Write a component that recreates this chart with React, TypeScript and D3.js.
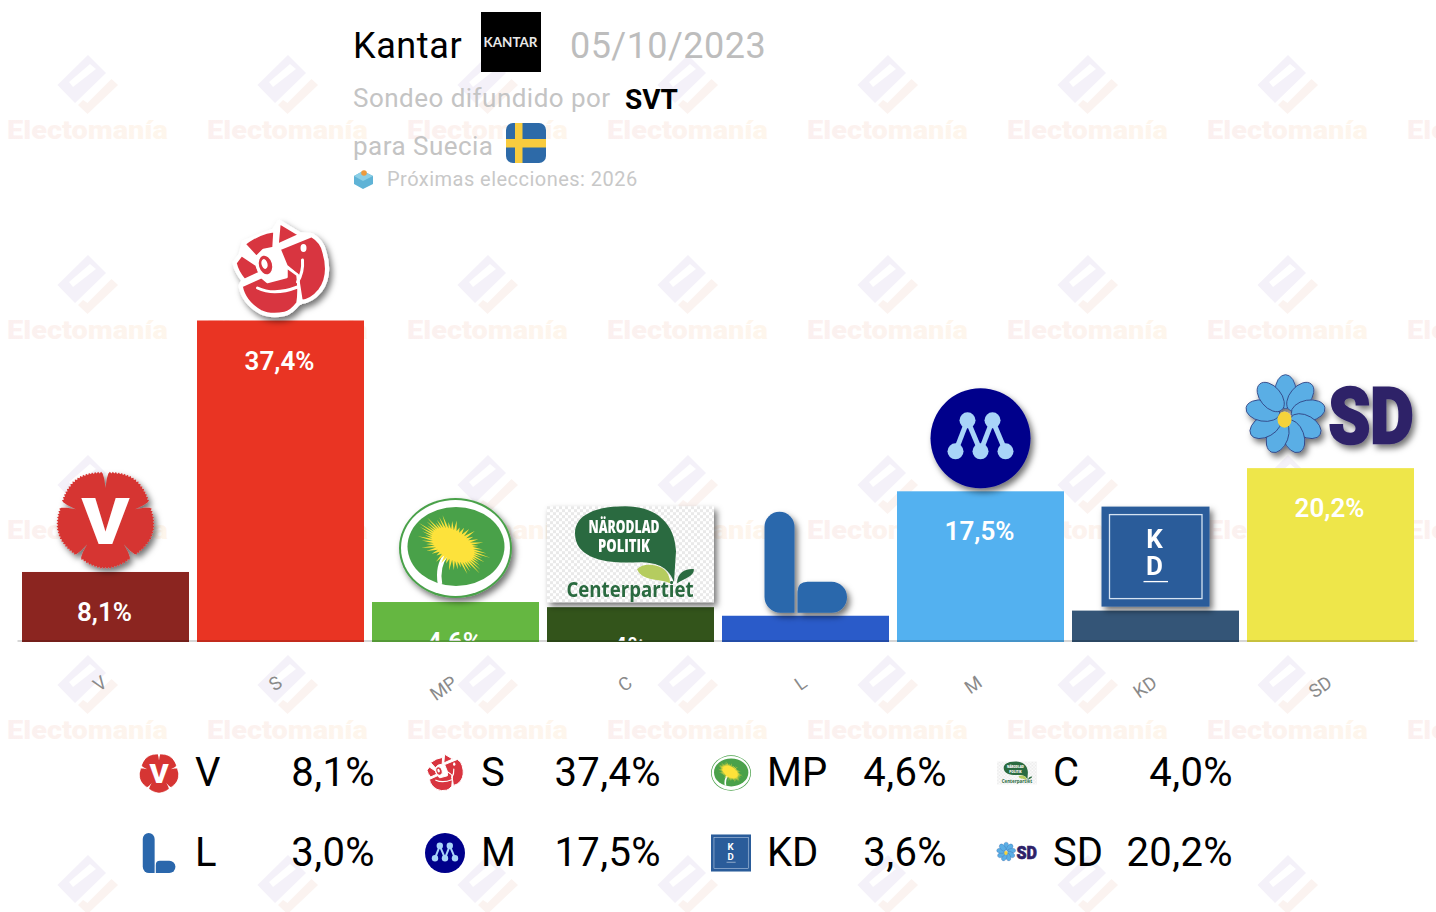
import React, { useEffect, useRef } from "react";
import * as d3 from "d3";

/* DATA */
const parties = ["V", "S", "MP", "C", "L", "M", "KD", "SD"];
const values = [8.1, 37.4, 4.6, 4.0, 3.0, 17.5, 3.6, 20.2];
const barColors = ["#8b2520", "#e93423", "#65b741", "#33541b", "#2a5bc9", "#53b1f0", "#345577", "#eee64a"];
const pollster = "Kantar";
const pollDate = "05/10/2023";
const media = "SVT";
const country = "para Suecia";
const nextElection = "Próximas elecciones: 2026";

/* SIZES */
const width = 1436;
const height = 912;
const baseline = 642;
const font = "Roboto, sans-serif";

const x = d3.scaleBand<string>().domain(parties).range([18, 1418]).paddingInner(8 / 175).paddingOuter(4 / 175);
const y = d3.scaleLinear().domain([0, 37.4]).range([641.5, 320.5]);

const fmtBar = (v: number) => String(v).replace(".", ",") + "%";
const fmtLegend = (v: number) => v.toFixed(1).replace(".", ",") + "%";

/* Logos: every one is drawn in its own w x h box */
const carnation = () => {
  const pts = d3.range(0, 200).map((i) => {
    const deg = i * 1.8;
    const rem = deg % 72;
    const dn = Math.min(rem, 72 - rem);
    const r = 49 - 14 * Math.max(0, 1 - dn / 3.5) - 3 * Math.max(0, 1 - dn / 30) + (i % 2 ? 0.9 : -0.9);
    const a = ((deg - 90) * Math.PI) / 180;
    return [50 + r * Math.cos(a), 50 + r * Math.sin(a)] as [number, number];
  });
  return d3.line().curve(d3.curveLinearClosed)(pts) as string;
};

const dandelion = () => {
  const pts = d3.range(0, 96).map((i) => {
    const a = (i * 3.75 * Math.PI) / 180;
    const k = i % 2 ? 0.62 : 0.84 + (i % 7) * 0.045;
    return [37 * k * Math.cos(a), 22 * k * Math.sin(a)] as [number, number];
  });
  return d3.line().curve(d3.curveLinearClosed)(pts) as string;
};

const LogoV = () => (
  <g>
    <path d={carnation()} fill="#d63533" />
    <text x={50} y={75} textAnchor="middle" fontFamily={font} fontWeight={900} fontSize={64} fill="#fff" textLength={48} lengthAdjust="spacingAndGlyphs">V</text>
  </g>
);

const roseWhite = { stroke: "#fff", strokeWidth: 2.5, strokeLinejoin: "round" as const };
const LogoS = () => (
  <g>
    <path
      d="M14 23 L44 11 L49 3 L69 15 L81 16 Q91 22 93 32 Q100 55 89 70 Q81 80 71 81 L67 83 Q60 92 54 93 Q40 96 30 91 Q14 82 11 66 L14 60 Q7 52 5 43 L11 35 Z"
      fill="#fff"
      stroke="#fff"
      strokeWidth={6}
      strokeLinejoin="round"
    />
    <g fill="#d8343f" {...roseWhite}>
      <path d="M14 24 Q28 13 44 11 L43 28 L33 30 L26 37 Z" />
      <path d="M49 3 L69 15 L47 25 Z" />
      <path d="M49 29 L81 16 Q91 22 93 32 Q100 55 89 70 Q81 80 71 81 L67 55 L56 46 Z" />
      <path d="M5 43 L11 35 L26 45 L29 53 L14 60 Q7 52 5 43 Z" />
      <path d="M11 66 L31 57 L37 62 L56 57 L56 47 L67 55 Q69 72 67 83 Q60 92 54 93 Q40 96 30 91 Q14 82 11 66 Z" />
    </g>
    <path d="M27 68 Q44 76 67 67" fill="none" stroke="#fff" strokeWidth={3} strokeLinecap="round" />
    <path d="M72 40 Q73 52 67 62" fill="none" stroke="#fff" strokeWidth={3} strokeLinecap="round" />
    <ellipse cx={35} cy={45} rx={8} ry={11} fill="#d8343f" stroke="#fff" strokeWidth={3} transform="rotate(-15 35 45)" />
    <ellipse cx={34} cy={44} rx={3} ry={5} fill="#fff" transform="rotate(-15 34 44)" />
    <ellipse cx={73} cy={28} rx={3} ry={4} fill="#fff" />
  </g>
);

const LogoMP = () => (
  <g>
    <ellipse cx={56.5} cy={50} rx={56.5} ry={50} fill="#4aa14a" />
    <ellipse cx={56.5} cy={50} rx={54.5} ry={48} fill="#fff" />
    <ellipse cx={57} cy={48.5} rx={48.5} ry={39.5} fill="#4aa14a" />
    <path d="M41 86 Q38 68 47 57" fill="none" stroke="#fff" strokeWidth={4.5} />
    <path d={dandelion()} fill="#fde23a" transform="translate(54,47) rotate(33)" />
  </g>
);

const LogoC = () => (
  <g>
    <defs>
      <pattern id="checker" width={6} height={6} patternUnits="userSpaceOnUse">
        <rect width={6} height={6} fill="#fff" />
        <rect width={3} height={3} fill="#e9e9e9" />
        <rect x={3} y={3} width={3} height={3} fill="#e9e9e9" />
      </pattern>
    </defs>
    <rect width={167} height={96} fill="url(#checker)" />
    <path d="M28 27 C28 8 50 0 78 0 C110 0 128 18 129 45 L127 76 C122 62 112 56 92 56 C58 58 28 52 28 27 Z" fill="#2a6b3f" />
    <path d="M90 63 C96 56 112 58 118 64 C122 68 123 73 123 77 C114 72 96 76 90 63 Z" fill="#b5cc5e" />
    <path d="M130 77 C130 66 140 62 147 63 C147 70 138 72 130 77 Z" fill="#2a6b3f" />
    <g fontFamily="'Open Sans', sans-serif" fontWeight={800} fill="#fff" textAnchor="middle">
      <text x={77} y={27} fontSize={17} textLength={71} lengthAdjust="spacingAndGlyphs">NÄRODLAD</text>
      <text x={77} y={46} fontSize={17} textLength={52} lengthAdjust="spacingAndGlyphs">POLITIK</text>
    </g>
    <text x={83} y={91} textAnchor="middle" fontFamily="'Open Sans', sans-serif" fontWeight={700} fontSize={22} fill="#2a6b3f" textLength={127} lengthAdjust="spacingAndGlyphs">Centerpartiet</text>
  </g>
);

const LogoL = () => (
  <g fill="#2a67ac">
    <path d="M0 15 A15 15 0 0 1 30 15 L30 101 L16 101 A16 16 0 0 1 0 85 Z" />
    <path d="M33 80 Q33 70 43 70 L67 70 A15.5 15.5 0 0 1 67 101 L33 101 Z" />
  </g>
);

const mNodes = [[37, 32], [62, 32], [25, 63], [50, 63], [75, 63]];
const mEdges = [[2, 0], [0, 3], [3, 1], [1, 4]];
const LogoM = () => (
  <g>
    <circle cx={50} cy={50} r={50} fill="#00008b" />
    {mEdges.map(([a, b], i) => (
      <line key={i} x1={mNodes[a][0]} y1={mNodes[a][1]} x2={mNodes[b][0]} y2={mNodes[b][1]} stroke="#a8d4f8" strokeWidth={5} />
    ))}
    {mNodes.map(([cx, cy], i) => (
      <circle key={i} cx={cx} cy={cy} r={8} fill="#a8d4f8" />
    ))}
  </g>
);

const LogoKD = () => (
  <g>
    <rect width={108} height={100} fill="#2a5c9a" />
    <rect x={8} y={8} width={92.5} height={84} fill="none" stroke="#d5e3f2" strokeWidth={1.3} />
    <g fontFamily={font} fontWeight={700} fontSize={26} fill="#fff" textAnchor="middle">
      <text x={53} y={41}>K</text>
      <text x={53} y={68}>D</text>
    </g>
    <line x1={42} x2={66.5} y1={75} y2={75} stroke="#fff" strokeWidth={1.3} />
  </g>
);

const LogoSD = () => (
  <g>
    {d3.range(9).map((i) => (
      <ellipse key={i} cx={38} cy={17} rx={10.5} ry={17} fill="#5aaee5" stroke="#2f3f80" strokeWidth={0.8} transform={`rotate(${i * 40} 38 40)`} />
    ))}
    <ellipse cx={37} cy={45} rx={7} ry={8} fill="#f5d33a" />
    <text x={81} y={68} fontFamily={font} fontWeight={900} fontSize={78} fill="#2e2268" stroke="#2e2268" strokeWidth={2.5} textLength={85} lengthAdjust="spacingAndGlyphs">SD</text>
  </g>
);

const logos: Record<string, any> = {
  V: { draw: LogoV, w: 100, h: 100, gap: 3 },
  S: { draw: LogoS, w: 100, h: 100, gap: 0.5 },
  MP: { draw: LogoMP, w: 113, h: 100, gap: 4 },
  C: { draw: LogoC, w: 167, h: 96, gap: 5 },
  L: { draw: LogoL, w: 82, h: 101, gap: 3 },
  M: { draw: LogoM, w: 100, h: 100, gap: 3 },
  KD: { draw: LogoKD, w: 108, h: 100, gap: 4 },
  SD: { draw: LogoSD, w: 166, h: 90, gap: 3.5 },
};

/* Watermark repeated on a 200px grid */
const Watermark = ({ col, row }: { col: number; row: number }) => (
  <g transform={`translate(${col * 200},${row * 200})`}>
    <path d="M88 55 L106 73 L75 103 L57.5 85 Z M73 87 L96 69 L90 64 L69 82 Z" fill="#f4f1f9" fillRule="evenodd" />
    <path d="M78 105 L87.5 114 L118 85 L111.5 79 L87.5 103 L83 100 Z" fill="#fbf3f0" />
    {row < 4 && (
      <text x={7} y={139} fontFamily={font} fontWeight={900} fontSize={26} fill="url(#wmText)" textLength={161} lengthAdjust="spacingAndGlyphs">Electomanía</text>
    )}
  </g>
);

const App = () => {
  const axisRef = useRef<SVGGElement>(null);

  useEffect(() => {
    const axis = d3.axisBottom(x).tickSize(0).tickPadding(0);
    const g = d3.select(axisRef.current as SVGGElement).call(axis as any);
    g.select(".domain").attr("stroke", "rgba(0,0,0,0.16)").attr("stroke-width", 2);
    g.selectAll("text")
      .attr("font-family", font)
      .attr("font-size", 18.5)
      .attr("fill", "#8a8a8a")
      .attr("text-anchor", "end")
      .attr("dy", 0)
      .attr("y", 0)
      .attr("transform", "translate(4,45) rotate(-35)");
  }, []);

  return (
    <svg width={width} height={height} style={{ position: "absolute", left: 0, top: 0, display: "block", background: "#fff" }}>
      <defs>
        <linearGradient id="wmText">
          <stop offset="0" stopColor="#fbf0f0" />
          <stop offset="1" stopColor="#fef6ec" />
        </linearGradient>
        <filter id="logoShadow" x="-20%" y="-20%" width="150%" height="150%">
          <feDropShadow dx={3} dy={4} stdDeviation={3} floodColor="#000" floodOpacity={0.55} />
        </filter>
        <clipPath id="barClip">
          <rect x={0} y={0} width={width} height={baseline - 1} />
        </clipPath>
      </defs>

      {d3.range(8).map((c) => d3.range(5).map((r) => <Watermark key={`${c}-${r}`} col={c} row={r} />))}

      {/* Header */}
      <text x={353} y={58} fontFamily={font} fontSize={36} fill="#000" letterSpacing={0.6}>{pollster}</text>
      <rect x={481} y={12} width={60} height={60} fill="#000" />
      <text x={510.5} y={47} textAnchor="middle" fontFamily="Lato, sans-serif" fontWeight={700} fontSize={14} fill="#e8e8e8" textLength={54} lengthAdjust="spacingAndGlyphs">KANTAR</text>
      <text x={570} y={58} fontFamily={font} fontSize={36} fill="#bdbdbd" letterSpacing={0.45}>{pollDate}</text>
      <text x={353} y={107} fontFamily={font} fontSize={26} fill="#c4c4c4" letterSpacing={0.47}>Sondeo difundido por</text>
      <text x={625} y={109} fontFamily={font} fontWeight={700} fontSize={28} fill="#000">{media}</text>
      <text x={353} y={155} fontFamily={font} fontSize={26} fill="#c4c4c4" letterSpacing={0.47}>{country}</text>
      <clipPath id="flagClip">
        <rect x={506} y={123} width={40} height={40} rx={7} />
      </clipPath>
      <g clipPath="url(#flagClip)">
        <rect x={506} y={123} width={40} height={40} fill="#2d6aa8" />
        <rect x={515} y={123} width={7.5} height={40} fill="#f8cb3e" />
        <rect x={506} y={139} width={40} height={8.5} fill="#f8cb3e" />
      </g>
      <path d="M354 176 L363 171 L373 176 L373 184 L363 189 L354 184 Z" fill="#5fb3d6" />
      <path d="M354 176 L363 181 L373 176 L363 171 Z" fill="#8ccfe6" />
      <circle cx={364} cy={173} r={2.8} fill="#ee9a3c" />
      <text x={387} y={186} fontFamily={font} fontSize={20} fill="#c8c8c8" letterSpacing={0.47}>{nextElection}</text>

      {/* Bars */}
      {parties.map((p, i) => (
        <rect key={p} x={x(p)} y={y(values[i])} width={x.bandwidth()} height={baseline - y(values[i])} fill={barColors[i]} />
      ))}
      <g clipPath="url(#barClip)">
        {parties.map((p, i) => (
          <text key={p} x={(x(p) as number) + x.bandwidth() / 2 - 1} y={y(values[i]) + 49} textAnchor="middle" fontFamily={font} fontWeight={600} fontSize={26} fill="#fff">
            {fmtBar(values[i])}
          </text>
        ))}
      </g>
      <g ref={axisRef} transform={`translate(-1,${baseline - 1.5})`} />

      {/* Logos over the bars */}
      {parties.map((p, i) => {
        const l = logos[p];
        const Draw = l.draw;
        const lx = (x(p) as number) + x.bandwidth() / 2 - l.w / 2;
        const ly = y(values[i]) - l.gap - l.h;
        return (
          <g key={p} transform={`translate(${lx},${ly})`} filter="url(#logoShadow)">
            <Draw />
          </g>
        );
      })}

      {/* Legend */}
      {parties.map((p, i) => {
        const col = i % 4;
        const row = Math.floor(i / 4);
        const l = logos[p];
        const Draw = l.draw;
        const k = Math.min(40 / l.w, 40 / l.h);
        const cx = 159 + col * 286;
        const cy = 773 + row * 80;
        return (
          <g key={p}>
            <g transform={`translate(${cx - (l.w * k) / 2},${cy - (l.h * k) / 2}) scale(${k})`}>
              <Draw />
            </g>
            <text x={195 + col * 286} y={786 + row * 80} fontFamily={font} fontSize={40} fill="#000">{p}</text>
            <text x={375 + col * 286} y={786 + row * 80} textAnchor="end" fontFamily={font} fontSize={40} fill="#000" letterSpacing={0.4}>{fmtLegend(values[i])}</text>
          </g>
        );
      })}
    </svg>
  );
};

export default App;
